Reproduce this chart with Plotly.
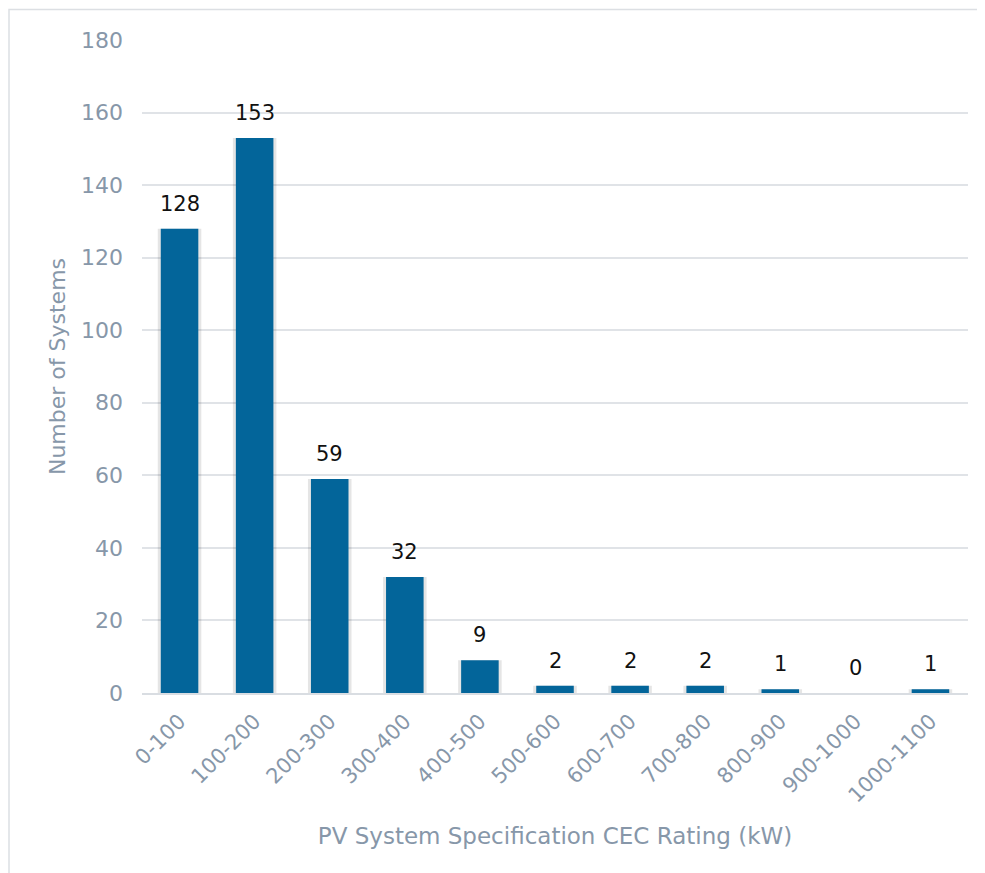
import plotly.graph_objects as go

categories = ["0-100", "100-200", "200-300", "300-400", "400-500", "500-600",
              "600-700", "700-800", "800-900", "900-1000", "1000-1100"]
counts = [128, 153, 59, 32, 9, 2, 2, 2, 1, 0, 1]
y_ticks = [0, 20, 40, 60, 80, 100, 120, 140, 160, 180]

FONT = "DejaVu Sans"
GRAY = "#8797a9"

W, H = 977, 865
L, R, T, B = 134, 17, 32, 180
PW, PH = W - L - R, H - T - B

fig = go.Figure()
# soft shadow behind bars
fig.add_trace(go.Bar(
    x=categories, y=counts, width=0.58,
    marker=dict(color="rgba(0,0,0,0.10)", line=dict(width=0)),
    hoverinfo="skip", showlegend=False,
))
fig.add_trace(go.Bar(
    x=categories, y=counts, width=0.5,
    marker=dict(color="#03659a", line=dict(width=0)),
    showlegend=False,
))
for c, v in zip(categories, counts):
    fig.add_annotation(x=c, y=v, text=str(v), showarrow=False,
                       yanchor="bottom", yshift=11,
                       font=dict(family=FONT, size=21, color="#111111"))

fig.update_layout(
    width=W, height=H,
    barmode="overlay",
    paper_bgcolor="white", plot_bgcolor="white",
    margin=dict(l=L, r=R, t=T, b=B),
    font=dict(family=FONT, color=GRAY),
    xaxis=dict(
        tickangle=-45, tickfont=dict(size=21, color=GRAY),
        showgrid=False, showline=True, linecolor="#d9dde2", linewidth=1.5,
        ticks="", ticklabelstandoff=6,
        title=dict(text="PV System Specification CEC Rating (kW)",
                   font=dict(size=23, color=GRAY), standoff=22),
    ),
    yaxis=dict(
        range=[0, 180], tickvals=y_ticks, tickfont=dict(size=22, color=GRAY),
        showgrid=True, gridcolor="#e0e3e7", gridwidth=1.5, zeroline=False,
        ticks="", ticklabelstandoff=18,
        title=dict(text="Number of Systems", font=dict(size=22, color=GRAY), standoff=9),
    ),
    shapes=[dict(type="rect", xref="paper", yref="paper",
                 x0=(1 - L) / PW, x1=(W + 20 - L) / PW,
                 y0=-(B + 20) / PH, y1=1 + (T - 1.5) / PH,
                 line=dict(color="#dcdfe3", width=1.5), layer="below")],
)

fig.write_html("out.html")
